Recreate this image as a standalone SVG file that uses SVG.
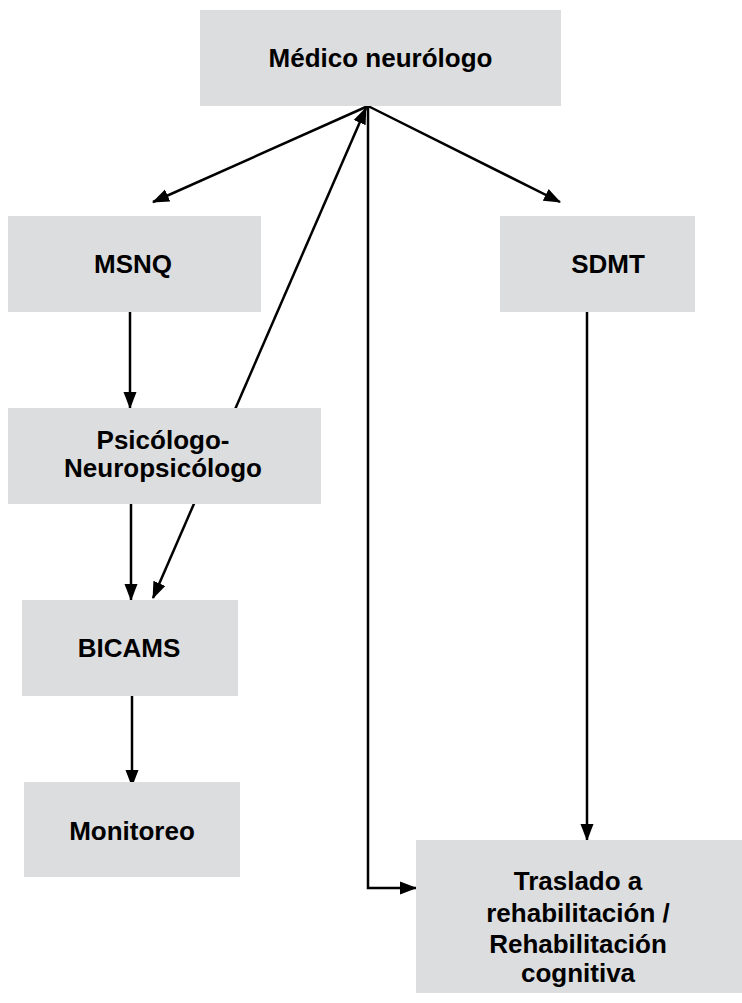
<svg xmlns="http://www.w3.org/2000/svg" width="742" height="1003" viewBox="0 0 742 1003">
  <style>
    .box { fill: #dcdddf; }
    .lbl { font-family: "Liberation Sans", Arial, Helvetica, sans-serif; font-weight: bold; font-size: 26px; fill: #000; text-anchor: middle; }
    .conn { stroke: #000; stroke-width: 2.5; fill: none; }
  </style>
  <defs>
    <marker id="arrow" markerUnits="userSpaceOnUse" markerWidth="18" markerHeight="14" refX="16" refY="6.5" orient="auto-start-reverse" viewBox="0 0 18 13">
      <path d="M0,0 L17,6.5 L0,13 Z" fill="#000"/>
    </marker>
  </defs>
  <rect width="742" height="1003" fill="#fff"/>

  <g id="connectors">
    <line class="conn" x1="368" y1="106" x2="153" y2="202" marker-end="url(#arrow)"/>
    <line class="conn" x1="368" y1="106" x2="560" y2="202" marker-end="url(#arrow)"/>
    <line class="conn" x1="366" y1="108" x2="153" y2="598" marker-start="url(#arrow)" marker-end="url(#arrow)"/>
    <polyline class="conn" points="368,106 368,888 416,888" marker-end="url(#arrow)"/>
    <line class="conn" x1="130" y1="312" x2="130" y2="408" marker-end="url(#arrow)"/>
    <line class="conn" x1="131" y1="504" x2="131" y2="600" marker-end="url(#arrow)"/>
    <line class="conn" x1="132" y1="696" x2="132" y2="786" marker-end="url(#arrow)"/>
    <line class="conn" x1="587" y1="312" x2="587" y2="840" marker-end="url(#arrow)"/>
  </g>

  <g id="medico">
    <rect class="box" x="200" y="10" width="361" height="96"/>
    <text class="lbl" x="380.5" y="67">Médico neurólogo</text>
  </g>
  <g id="msnq">
    <rect class="box" x="8" y="216" width="253" height="96"/>
    <text class="lbl" x="133" y="273">MSNQ</text>
  </g>
  <g id="sdmt">
    <rect class="box" x="500" y="216" width="195" height="96"/>
    <text class="lbl" x="608" y="273">SDMT</text>
  </g>
  <g id="psicologo">
    <rect class="box" x="8" y="408" width="313" height="96"/>
    <text class="lbl" x="163" y="449">Psicólogo-</text>
    <text class="lbl" x="163" y="477">Neuropsicólogo</text>
  </g>
  <g id="bicams">
    <rect class="box" x="22" y="600" width="216" height="96"/>
    <text class="lbl" x="129" y="657">BICAMS</text>
  </g>
  <g id="monitoreo">
    <rect class="box" x="24" y="782" width="216" height="95"/>
    <text class="lbl" x="132" y="840">Monitoreo</text>
  </g>
  <g id="rehabilitacion">
    <rect class="box" x="416" y="840" width="326" height="153"/>
    <text class="lbl" x="578" y="890">Traslado a</text>
    <text class="lbl" x="578" y="922">rehabilitación /</text>
    <text class="lbl" x="578" y="953">Rehabilitación</text>
    <text class="lbl" x="578" y="982">cognitiva</text>
  </g>
</svg>
